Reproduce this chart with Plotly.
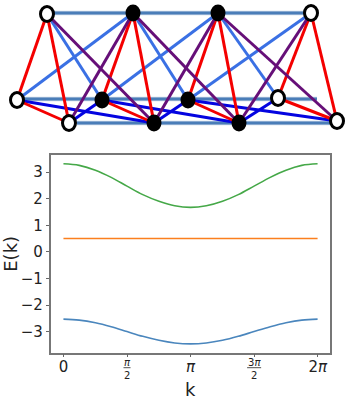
import plotly.graph_objects as go

# band structure
k = [0, 0.39, 0.79, 1.18, 1.57, 1.96, 2.36, 2.75, 3.14,
     3.53, 3.93, 4.32, 4.71, 5.11, 5.50, 5.89, 6.28]
band_low = [-2.53, -2.565, -2.665, -2.815, -2.995, -3.175, -3.325, -3.425, -3.46,
            -3.425, -3.325, -3.175, -2.995, -2.815, -2.665, -2.565, -2.53]
band_mid = [0.5, 0.5, 0.5, 0.5, 0.5, 0.5, 0.5, 0.5, 0.5,
            0.5, 0.5, 0.5, 0.5, 0.5, 0.5, 0.5, 0.5]
band_high = [3.31, 3.25, 3.07, 2.80, 2.47, 2.15, 1.90, 1.73, 1.67,
             1.73, 1.90, 2.15, 2.47, 2.80, 3.07, 3.25, 3.31]

x_ticks = [0, 3.1416, 6.2832]
x_labels = ['0', '<i>π</i>', '2<i>π</i>']
frac_ticks = [1.5708, 4.7124]
frac_labels = ['<i>π</i>', '3<i>π</i>']
y_ticks = [-3, -2, -1, 0, 1, 2, 3]
y_labels = ['−3', '−2', '−1', '0', '1', '2', '3']

# lattice sketch, in picture pixels
top_x = [47, 133, 218, 311]
top_y = [14, 13, 13, 13]
mid_x = [17, 102, 188, 278]
mid_y = [100, 100, 100, 98]
bot_x = [69, 154, 239, 337]
bot_y = [123, 123, 123, 121]
top_filled = [False, True, True, False]
mid_filled = [False, True, True, False]
bot_filled = [False, True, True, False]

rail_x = [[47, 311], [17, 317], [77, 333]]
rail_y = [[13, 13], [99, 99], [123, 123]]

W, H = 347, 404
fig = go.Figure()


def edges(pairs, color, width=3):
    """pairs are (row, i, row, j) with row one of t/m/b"""
    rows = {'t': (top_x, top_y), 'm': (mid_x, mid_y), 'b': (bot_x, bot_y)}
    xs, ys = [], []
    for r1, i, r2, j in pairs:
        xs += [rows[r1][0][i], rows[r2][0][j], None]
        ys += [rows[r1][1][i], rows[r2][1][j], None]
    fig.add_trace(go.Scatter(x=xs, y=ys, mode='lines', xaxis='x2', yaxis='y2',
                             line=dict(color=color, width=width),
                             showlegend=False, hoverinfo='skip'))


# horizontal rails
for xs, ys in zip(rail_x, rail_y):
    fig.add_trace(go.Scatter(x=xs, y=ys, mode='lines', xaxis='x2', yaxis='y2',
                             line=dict(color='#c8d6e6', width=4.5),
                             showlegend=False, hoverinfo='skip'))
    fig.add_trace(go.Scatter(x=xs, y=ys, mode='lines', xaxis='x2', yaxis='y2',
                             line=dict(color='#4a7db8', width=3),
                             showlegend=False, hoverinfo='skip'))

edges([('t', 1, 'm', 0), ('t', 2, 'm', 1), ('t', 3, 'm', 2),
       ('t', 0, 'm', 1), ('t', 1, 'm', 2), ('t', 2, 'm', 3)], '#3a70e4')
edges([('m', 0, 'b', 1), ('m', 1, 'b', 2), ('m', 2, 'b', 3),
       ('b', 0, 'm', 1), ('b', 1, 'm', 2), ('b', 2, 'm', 3)], '#0404e0')
edges([('t', 0, 'm', 0), ('t', 0, 'b', 0), ('t', 1, 'm', 1), ('t', 1, 'b', 1),
       ('t', 2, 'm', 2), ('t', 2, 'b', 2), ('t', 3, 'm', 3), ('t', 3, 'b', 3),
       ('m', 0, 'b', 0), ('m', 1, 'b', 1), ('m', 2, 'b', 2), ('m', 3, 'b', 3)], '#f40000')
edges([('t', 1, 'b', 0), ('t', 2, 'b', 1), ('t', 3, 'b', 2),
       ('t', 0, 'b', 1), ('t', 1, 'b', 2), ('t', 2, 'b', 3)], '#660f78')

# oval nodes
for xs, ys, filled in [(top_x, top_y, top_filled), (mid_x, mid_y, mid_filled),
                       (bot_x, bot_y, bot_filled)]:
    for x, y, f in zip(xs, ys, filled):
        rx, ry = (7.5, 8.5) if f else (6.5, 7.5)
        fig.add_shape(type='circle', xref='x2', yref='y2',
                      x0=x - rx, x1=x + rx, y0=y - ry, y1=y + ry,
                      fillcolor='black' if f else 'white',
                      line=dict(color='black', width=0 if f else 3))

# bands
for vals, color in [(band_low, '#4a86bd'), (band_mid, '#fb7f1e'), (band_high, '#45a848')]:
    fig.add_trace(go.Scatter(x=k, y=vals, mode='lines',
                             line=dict(color=color, width=1.6, shape='spline'),
                             showlegend=False))

text_color = '#222222'
fig.update_layout(
    width=W, height=H,
    margin=dict(l=0, r=0, t=0, b=0),
    paper_bgcolor='white', plot_bgcolor='rgba(0,0,0,0)',
    font=dict(family='DejaVu Sans', color=text_color),
    xaxis=dict(domain=[50.5 / W, 330 / W], range=[-0.32, 6.587], anchor='y',
               tickvals=x_ticks + frac_ticks, ticktext=x_labels + ['', ''],
               tickfont=dict(size=15), ticks='outside', ticklen=3,
               ticklabelstandoff=-3,
               tickcolor='#666666', showgrid=False, zeroline=False,
               showline=True, mirror=True, linecolor='#777777', linewidth=1.5,
               title=dict(text='k', font=dict(size=18), standoff=8)),
    yaxis=dict(domain=[1 - 352.7 / H, 1 - 155 / H], range=[-3.79, 3.64], anchor='x',
               tickvals=y_ticks, ticktext=y_labels,
               tickfont=dict(size=15), ticks='outside', ticklen=3,
               tickcolor='#666666', showgrid=False, zeroline=False,
               showline=True, mirror=True, linecolor='#777777', linewidth=1.5,
               title=dict(text='E(k)', font=dict(size=18), standoff=5)),
    xaxis2=dict(domain=[0, 1], range=[0, W], anchor='y2', visible=False, fixedrange=True),
    yaxis2=dict(domain=[0, 1], range=[H, 0], anchor='x2', visible=False, fixedrange=True),
)

# pi/2 style fractions
for x, label in zip(frac_ticks, frac_labels):
    fig.add_annotation(x=x, xref='x', yref='paper', y=1 - 354.5 / H, yanchor='top',
                       text=label, showarrow=False, font=dict(size=10))
    fig.add_annotation(x=x, xref='x', yref='paper', y=1 - 367.5 / H, yanchor='top',
                       text='2', showarrow=False, font=dict(size=10))
    half = 3.5 if label == '<i>π</i>' else 7
    fig.add_shape(type='line', xref='x', yref='paper',
                  x0=x - half / 40.46, x1=x + half / 40.46,
                  y0=1 - 367.7 / H, y1=1 - 367.7 / H,
                  line=dict(color=text_color, width=0.8))

fig.write_html("out.html", post_script="document.body.style.margin='0';",
               config=dict(displayModeBar=False))
